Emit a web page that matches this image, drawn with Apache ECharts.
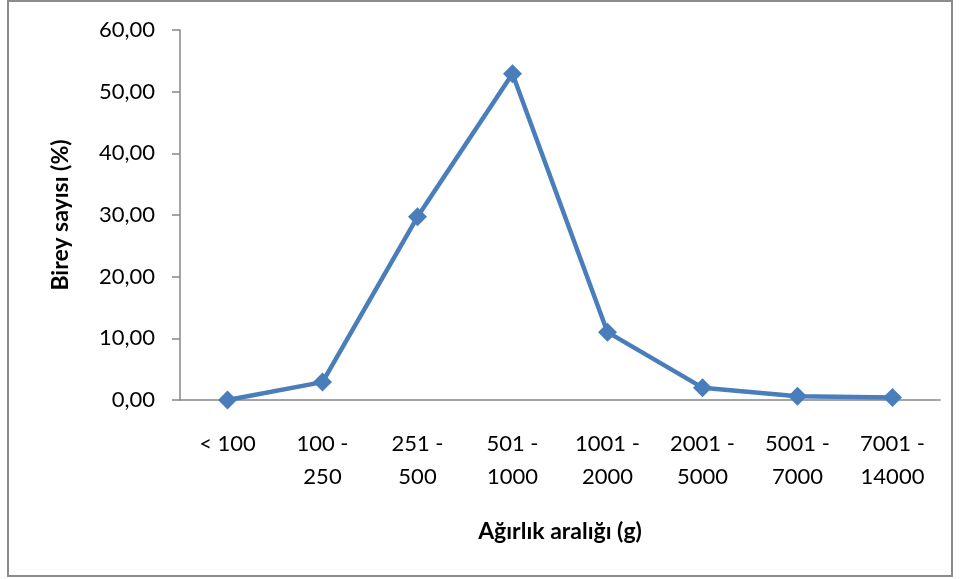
<!DOCTYPE html>
<html>
<head>
<meta charset="utf-8">
<script src="https://cdn.jsdelivr.net/npm/echarts@6/dist/echarts.min.js"></script>
<style>html,body{margin:0;padding:0;background:#fff}#c{width:961px;height:579px}</style>
</head>
<body>
<div id="c"></div>
<script>
const categories = ['< 100', '100 -\n250', '251 -\n500', '501 -\n1000', '1001 -\n2000', '2001 -\n5000', '5001 -\n7000', '7001 -\n14000'];
const values = [0.0, 2.9, 29.7, 52.9, 11.0, 2.0, 0.6, 0.4];
const yTitle = 'Birey sayısı (%)';
const xTitle = 'Ağırlık aralığı (g)';

const font = 'Lato, "Open Sans", sans-serif';
const chart = echarts.init(document.getElementById('c'));
chart.setOption({
  animation: false,
  graphic: [{
    type: 'rect', shape: { x: 8, y: 1, width: 944, height: 575 },
    style: { fill: 'none', stroke: '#8c8c8c', lineWidth: 2 }, silent: true
  }],
  grid: { left: 180, right: 21, top: 30, bottom: 179 },
  xAxis: {
    type: 'category', data: categories, boundaryGap: true,
    axisLine: { lineStyle: { color: '#868686', width: 1.5 } },
    axisTick: { show: false },
    axisLabel: { color: '#000', fontSize: 22, fontFamily: font, margin: 27, lineHeight: 33, interval: 0 },
    name: xTitle, nameLocation: 'middle', nameGap: 120,
    nameTextStyle: { color: '#000', fontSize: 23, fontWeight: 'bold', fontFamily: font }
  },
  yAxis: {
    type: 'value', min: 0, max: 60, interval: 10,
    axisLine: { show: true, lineStyle: { color: '#868686', width: 1.5 } },
    axisTick: { show: true, length: 8, lineStyle: { color: '#868686', width: 1.5 } },
    splitLine: { show: false },
    axisLabel: { color: '#000', fontSize: 22, fontFamily: font, margin: 25,
      formatter: v => v.toFixed(2).replace('.', ',') },
    name: yTitle, nameLocation: 'middle', nameGap: 108, nameRotate: 90,
    nameTextStyle: { color: '#000', fontSize: 23, fontWeight: 'bold', fontFamily: font }
  },
  series: [{
    type: 'line', data: values,
    lineStyle: { color: '#4a7ebb', width: 4.5 },
    itemStyle: { color: '#4a7ebb' },
    symbol: 'diamond', symbolSize: 19, showSymbol: true
  }]
});
</script>
</body>
</html>
